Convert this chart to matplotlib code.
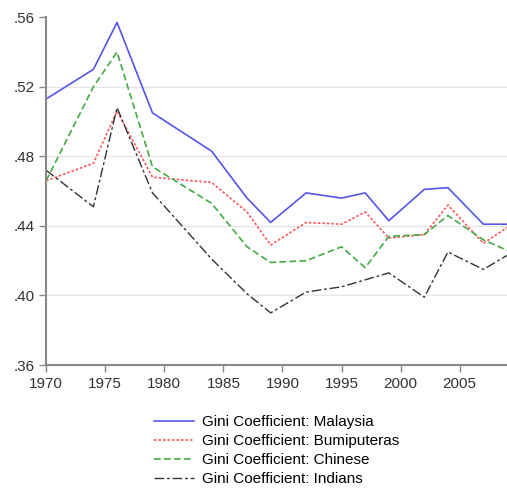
import numpy as np
import matplotlib.pyplot as plt

plt.rcParams['font.family'] = ['Liberation Sans', 'DejaVu Sans']

years = [1970, 1974, 1976, 1979, 1984, 1987, 1989, 1992, 1995, 1997, 1999, 2002, 2004, 2007, 2009]
malaysia = [0.513, 0.530, 0.557, 0.505, 0.483, 0.456, 0.442, 0.459, 0.456, 0.459, 0.443, 0.461, 0.462, 0.441, 0.441]
bumi = [0.466, 0.476, 0.506, 0.468, 0.465, 0.448, 0.429, 0.442, 0.441, 0.448, 0.433, 0.435, 0.452, 0.430, 0.439]
chinese = [0.466, 0.520, 0.540, 0.474, 0.453, 0.428, 0.419, 0.420, 0.428, 0.416, 0.434, 0.435, 0.446, 0.432, 0.426]
indians = [0.472, 0.451, 0.508, 0.459, 0.421, 0.401, 0.390, 0.402, 0.405, 0.409, 0.413, 0.399, 0.425, 0.415, 0.423]
labels = ["Gini Coefficient: Malaysia", "Gini Coefficient: Bumiputeras",
          "Gini Coefficient: Chinese", "Gini Coefficient: Indians"]

fig = plt.figure(figsize=(5.07, 4.92), dpi=100)
ax = fig.add_axes([0.091, 0.258, 0.909, 0.707])

ax.plot(years, malaysia, color='#5555ee', lw=1.2, ls='-', label=labels[0])
ax.plot(years, bumi, color='#ff5555', lw=1.2, ls=(0, (1.5, 1.2)), label=labels[1])
ax.plot(years, chinese, color='#44aa44', lw=1.2, ls=(0, (4, 2)), label=labels[2])
ax.plot(years, indians, color='#333333', lw=1.0, ls=(0, (7, 2, 2, 2)), label=labels[3])

ax.set_xlim(1970, 2009)
ax.set_ylim(0.36, 0.56)
ax.set_xticks(np.arange(1970, 2006, 5))
yt = [0.36, 0.40, 0.44, 0.48, 0.52, 0.56]
ax.set_yticks(yt)
ax.set_yticklabels(['.%02d' % round(v * 100) for v in yt])
for v in yt[1:-1]:
    ax.axhline(v, color='#e6e6e6', lw=1, zorder=0)

for s in ['top', 'right']:
    ax.spines[s].set_visible(False)
for s in ['left', 'bottom']:
    ax.spines[s].set_color('#888888')
    ax.spines[s].set_linewidth(1.5)
ax.tick_params(colors='#888888', labelcolor='#333333', labelsize=11, length=5, width=1)

ax.legend(loc='upper center', bbox_to_anchor=(0.50, -0.117), frameon=False,
          fontsize=11, handlelength=2.6, labelspacing=0.33, handletextpad=0.5,
          borderaxespad=0.2)

fig.savefig('out.png', dpi=100)
